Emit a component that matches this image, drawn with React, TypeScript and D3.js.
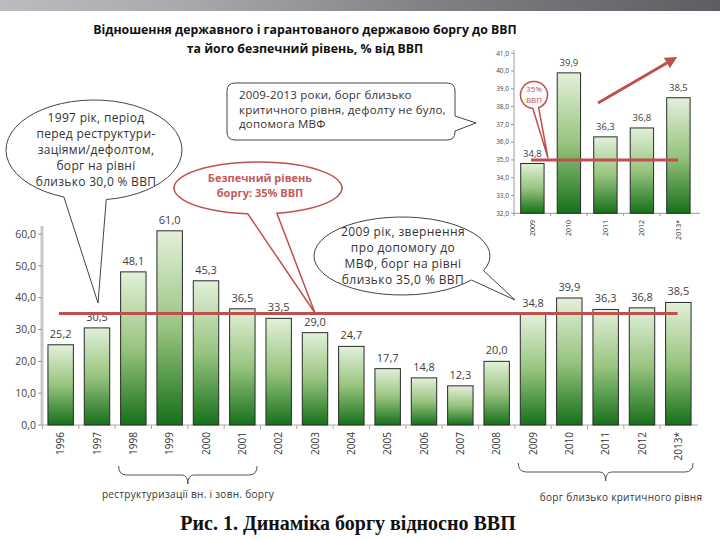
import * as d3 from "d3";

const years = ["1996", "1997", "1998", "1999", "2000", "2001", "2002", "2003", "2004", "2005", "2006", "2007", "2008", "2009", "2010", "2011", "2012", "2013*"];
const debt = [25.2, 30.5, 48.1, 61.0, 45.3, 36.5, 33.5, 29.0, 24.7, 17.7, 14.8, 12.3, 20.0, 34.8, 39.9, 36.3, 36.8, 38.5];
const mainTicks = [0, 10, 20, 30, 40, 50, 60];

const insetYears = ["2009", "2010", "2011", "2012", "2013*"];
const insetDebt = [34.8, 39.9, 36.3, 36.8, 38.5];
const insetTicks = [32, 33, 34, 35, 36, 37, 38, 39, 40, 41];

const safeLevel = 35;

const titleLines = [
  "Відношення державного і гарантованого державою боргу до ВВП",
  "та його безпечний рівень, % від ВВП",
];
const note1997 = ["1997 рік, період", "перед реструктури-", "заціями/дефолтом,", "борг на рівні", "близько 30,0 % ВВП"];
const noteSafe = ["Безпечний рівень", "боргу: 35% ВВП"];
const note2013 = ["2009-2013 роки, борг близько", "критичного рівня, дефолту не було,", "допомога МВФ"];
const note2009 = ["2009 рік, звернення", "про допомогу до", "МВФ, борг на рівні", "близько 35,0 % ВВП"];

const fmt = (v: number) => d3.format(".1f")(v).replace(".", ",");
const FONT = "'Open Sans', 'Liberation Sans', sans-serif";
const RED = "#c0504d";

// ellipse bubble with a pointed tail, angles in degrees (90 = bottom)
function bubble(cx: number, cy: number, rx: number, ry: number, a1: number, a2: number, tip: [number, number]) {
  const r = Math.PI / 180;
  const p1 = [cx + rx * Math.cos(a1 * r), cy + ry * Math.sin(a1 * r)];
  const p2 = [cx + rx * Math.cos(a2 * r), cy + ry * Math.sin(a2 * r)];
  return `M${p1[0]},${p1[1]} A${rx},${ry} 0 1 1 ${p2[0]},${p2[1]} L${tip[0]},${tip[1]} Z`;
}

export default function App() {
  const x = d3.scaleBand<string>().domain(years).range([42.5, 696.5]).paddingInner(0.3).paddingOuter(0.15);
  const y = d3.scaleLinear().domain([0, 60]).range([425, 234]);

  const xi = d3.scaleBand<string>().domain(insetYears).range([512.4, 698.4]).paddingInner(0.36).paddingOuter(0.228);
  const yi = d3.scaleLinear().domain([32, 41]).range([213.3, 53.3]);

  const bracketL = [x("1998")! - 2, x("2001")! + x.bandwidth() + 2];
  const bracketR = [x("2009")! - 2, x("2013*")! + x.bandwidth() + 2];

  return (
    <div style={{ position: "absolute", left: 0, top: 0 }}>
      <svg width={720} height={540} style={{ display: "block" }} fontFamily={FONT}>
        <defs>
          <linearGradient id="bar" x1="0" y1="0" x2="0" y2="1">
            <stop offset="0%" stopColor="#e3f0da" />
            <stop offset="50%" stopColor="#98c47f" />
            <stop offset="100%" stopColor="#16701a" />
          </linearGradient>
          <linearGradient id="banner" x1="0" y1="0" x2="1" y2="0">
            <stop offset="0%" stopColor="#bcbcc0" />
            <stop offset="25%" stopColor="#aaaaae" />
            <stop offset="60%" stopColor="#818185" />
            <stop offset="100%" stopColor="#5e5e62" />
          </linearGradient>
          <marker id="arrow" viewBox="0 0 10 10" refX="5" refY="5" markerWidth="4" markerHeight="4" orient="auto">
            <path d="M0,0 L10,5 L0,10 Z" fill={RED} />
          </marker>
        </defs>
        <rect width={720} height={540} fill="#fff" />
        <rect width={720} height={11} fill="url(#banner)" />

        {titleLines.map((t, i) => (
          <text key={t} x={305} y={34 + i * 19} textAnchor="middle" fontSize={12.3} fontWeight="bold" fill="#111">
            {t}
          </text>
        ))}

        {/* main chart */}
        <line x1={42} x2={42} y1={226} y2={425} stroke="#c8c8c8" strokeWidth={3} />
        {mainTicks.map((t) => (
          <g key={t}>
            <line x1={38} x2={42} y1={y(t)} y2={y(t)} stroke="#999" />
            <text x={36} y={y(t)} dy="0.35em" textAnchor="end" fontSize={10.5} fill="#444">
              {fmt(t)}
            </text>
          </g>
        ))}
        <line x1={42} x2={698} y1={425} y2={425} stroke="#aaa" />
        {years.map((yr) => (
          <line key={"t" + yr} x1={x(yr)! - (x.step() - x.bandwidth()) / 2} x2={x(yr)! - (x.step() - x.bandwidth()) / 2} y1={425} y2={429} stroke="#aaa" />
        ))}
        {years.map((yr, i) => (
          <g key={yr}>
            <rect x={x(yr)} y={y(debt[i])} width={x.bandwidth()} height={y(0) - y(debt[i])} fill="url(#bar)" stroke="#2a2a2a" strokeWidth={1} />
            <text x={x(yr)! + x.bandwidth() / 2} y={y(debt[i]) - 7} textAnchor="middle" fontSize={11} fill="#404040">
              {fmt(debt[i])}
            </text>
            <text
              transform={`translate(${x(yr)! + x.bandwidth() / 2},432) rotate(-90)`}
              dy="0.35em"
              textAnchor="end"
              fontSize={10}
              fill="#333"
            >
              {yr}
            </text>
          </g>
        ))}
        <line x1={x(years[0])! + 11} x2={x("2013*")! + 12} y1={y(safeLevel)} y2={y(safeLevel)} stroke={RED} strokeWidth={3} />

        {/* brackets */}
        {[bracketL, bracketR].map(([a, b], i) => {
          const m = (a + b) / 2;
          const top = i === 0 ? 466 : 463;
          return (
            <path
              key={i}
              d={`M${a},${top} Q${a},${top + 9} ${a + 8},${top + 9} L${m - 6},${top + 9} Q${m},${top + 9} ${m},${top + 18} Q${m},${top + 9} ${m + 6},${top + 9} L${b - 8},${top + 9} Q${b},${top + 9} ${b},${top}`}
              fill="none"
              stroke="#555"
              strokeWidth={1}
            />
          );
        })}
        <text x={188} y={498} textAnchor="middle" fontSize={10} fill="#333" letterSpacing={0.3}>
          реструктуризації вн. і зовн. боргу
        </text>
        <text x={621} y={501} textAnchor="middle" fontSize={10} fill="#333" letterSpacing={0.3}>
          борг близько критичного рівня
        </text>
        <text x={348} y={530} textAnchor="middle" fontSize={20} fontWeight="bold" fontFamily="'Liberation Serif', serif" fill="#111">
          Рис. 1. Динаміка боргу відносно ВВП
        </text>

        {/* inset chart */}
        <line x1={514} x2={514} y1={50} y2={213.3} stroke="#999" />
        {insetTicks.map((t) => (
          <g key={t}>
            <line x1={511} x2={514} y1={yi(t)} y2={yi(t)} stroke="#999" />
            <text x={509} y={yi(t)} dy="0.35em" textAnchor="end" fontSize={6.5} fill="#444">
              {fmt(t)}
            </text>
          </g>
        ))}
        <line x1={514} x2={700} y1={213.3} y2={213.3} stroke="#999" />
        {insetYears.map((yr, i) => (
          <g key={"i" + yr}>
            <line x1={xi(yr)! - (xi.step() - xi.bandwidth()) / 2} x2={xi(yr)! - (xi.step() - xi.bandwidth()) / 2} y1={213.3} y2={216} stroke="#999" />
            <rect x={xi(yr)} y={yi(insetDebt[i])} width={xi.bandwidth()} height={yi(32) - yi(insetDebt[i])} fill="url(#bar)" stroke="#2a2a2a" strokeWidth={1} />
            <text x={xi(yr)! + xi.bandwidth() / 2} y={yi(insetDebt[i]) - 7} textAnchor="middle" fontSize={9.5} fill="#404040">
              {fmt(insetDebt[i])}
            </text>
            <text
              transform={`translate(${xi(yr)! + xi.bandwidth() / 2},220) rotate(-90)`}
              dy="0.35em"
              textAnchor="end"
              fontSize={7}
              fill="#333"
            >
              {yr}
            </text>
          </g>
        ))}
        <line x1={531} x2={678} y1={yi(safeLevel)} y2={yi(safeLevel)} stroke={RED} strokeWidth={3} />
        <line x1={598} y1={103} x2={672} y2={60} stroke={RED} strokeWidth={3} markerEnd="url(#arrow)" />
        <path d={bubble(534, 95, 13.5, 13.5, 95, 70, [548, 158])} fill="#fff" stroke={RED} strokeWidth={1.5} />
        <text x={534} y={92} textAnchor="middle" fontSize={8} fill={RED}>35%</text>
        <text x={534} y={103} textAnchor="middle" fontSize={8} fill={RED}>ВВП</text>

        {/* callouts */}
        <path d={bubble(94, 150, 88, 50, 110, 82, [98, 303])} fill="#fff" stroke="#444" strokeWidth={1} />
        {note1997.map((t, i) => (
          <text key={t} x={96} y={122 + i * 16} textAnchor="middle" fontSize={12} letterSpacing={0.3} fill="#333">
            {t}
          </text>
        ))}

        <path d={bubble(258, 188, 84, 26, 97, 77, [315, 313])} fill="#fff" stroke={RED} strokeWidth={1.5} />
        {noteSafe.map((t, i) => (
          <text key={t} x={260} y={182 + i * 15} textAnchor="middle" fontSize={11} fontWeight="bold" fill="#c55a5a">
            {t}
          </text>
        ))}

        <path
          d="M235,83 L447,83 Q455,83 455,91 L455,116 L476,123 L455,131 L455,132 Q455,140 447,140 L235,140 Q227,140 227,132 L227,91 Q227,83 235,83 Z"
          fill="#fff"
          stroke="#444"
          strokeWidth={1}
        />
        {note2013.map((t, i) => (
          <text key={t} x={239} y={99 + i * 14.5} fontSize={11.5} letterSpacing={0.2} fill="#333">
            {t}
          </text>
        ))}

        <path d={bubble(402, 256, 88, 39, 38, 22, [515, 300])} fill="#fff" stroke="#444" strokeWidth={1} />
        {note2009.map((t, i) => (
          <text key={t} x={403} y={236 + i * 16} textAnchor="middle" fontSize={12} letterSpacing={0.4} fill="#333">
            {t}
          </text>
        ))}
      </svg>
    </div>
  );
}
